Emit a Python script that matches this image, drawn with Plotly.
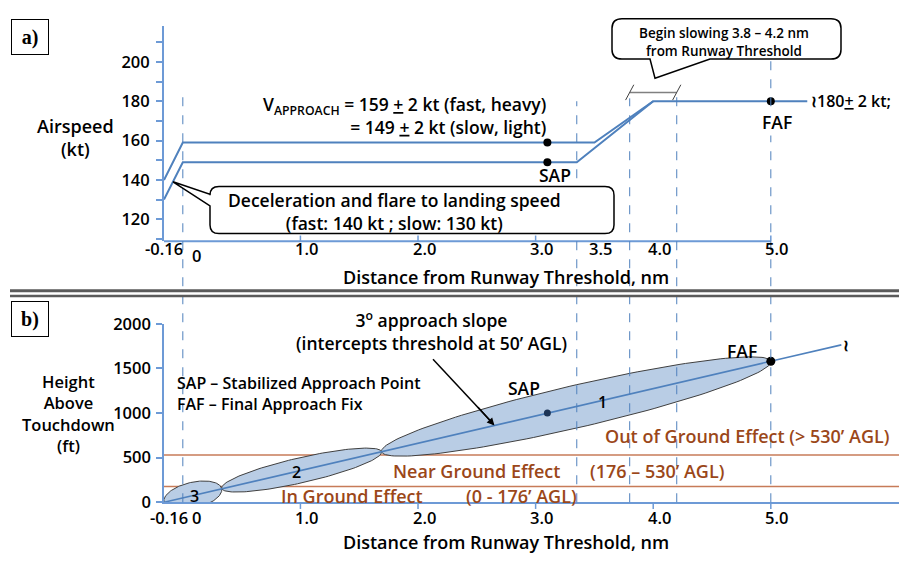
import numpy as np
import plotly.graph_objects as go

W, H = 899, 566
FONT = "Open Sans"
BLUE = "#4f81bd"
AXIS_BLUE = "#6d9ad6"
BROWN_TXT = "#9b4719"
BROWN_LINE = "#c77b58"
ELL_FILL = "#b9cde5"

# ---- panel a: airspeed schedule ----
fast_nm = [-0.16, 0.0, 3.5, 4.0, 5.31]
fast_kt = [140, 159, 159, 180, 180]
slow_nm = [-0.16, 0.0, 3.35, 4.0]
slow_kt = [130, 149, 149, 180]
sap_nm = 3.1
sap_kt = [159, 149]
faf_nm = 5.0
faf_kt = 180
speed_ticks = [-0.16, 0, 1.0, 2.0, 3.0, 3.5, 4.0, 5.0]
speed_tick_text = ["-0.16", "0", "1.0", "2.0", "3.0", "3.5", "4.0", "5.0"]
speed_tick_marks = [1.0, 2.0, 3.0, 5.0]
slow_window_nm = [3.8, 4.2]
guide_nm = [0.0, 3.35, 3.8, 4.2, 5.0]

# ---- panel b: glide path ----
glide_nm = [-0.16, 5.0, 5.6]
glide_ft = [0, 1580, 1764]
sap_ft = 1000
faf_ft = 1580
phase_nm = [-0.16, 0.33, 1.69, 5.0]      # boundaries of phases 3, 2, 1
phase_ft = [0, 155, 566, 1580]
phase_names = ["3", "2", "1"]
phase_label_nm = [0.10, 0.97, 3.57]
phase_label_ft = [70, 335, 1120]
ground_effect_ft = [176, 530]
height_ticks = [0, 500, 1000, 1500, 2000]
dist_ticks = [-0.16, 0, 1.0, 2.0, 3.0, 4.0, 5.0]
dist_tick_text = ["-0.16", "0", "1.0", "2.0", "3.0", "4.0", "5.0"]
dist_tick_marks = [1.0, 2.0, 3.0, 4.0, 5.0]

# ---- frame geometry (pixels) ----
PLOT_LEFT = 164
PX_PER_NM = 117.6
X_MIN = -0.16
X_MAX = X_MIN + (W - PLOT_LEFT) / PX_PER_NM
A_TOP, A_BOT = 15, 239
A_RANGE = [108.8, 108.8 + (A_BOT - A_TOP) / 2.05]
B_TOP, B_BOT = 325, 511
B_RANGE = [0, 2000]


def px(x):
    return x / W


def py(y):
    return 1 - y / H


def ellipse(x0, y0, x1, y1, half_px, n=160):
    sx = PX_PER_NM
    sy = (B_BOT - B_TOP) / (B_RANGE[1] - B_RANGE[0])
    p0 = np.array([x0 * sx, y0 * sy])
    p1 = np.array([x1 * sx, y1 * sy])
    c = (p0 + p1) / 2
    d = p1 - p0
    a = np.linalg.norm(d) / 2
    u = d / np.linalg.norm(d)
    nv = np.array([-u[1], u[0]])
    t = np.linspace(0, 2 * np.pi, n)
    pts = c + (a * np.cos(t))[:, None] * u + (half_px * np.sin(t))[:, None] * nv
    return pts[:, 0] / sx, pts[:, 1] / sy


def pt(x, y):
    return f"{px(x):.5f},{py(y):.5f}"


def callout(x0, y0, x1, y1, r, left_wedge=None, bottom_wedge=None):
    p = [f"M{pt(x0 + r, y0)}", f"L{pt(x1 - r, y0)}",
         f"Q{pt(x1, y0)} {pt(x1, y0 + r)}", f"L{pt(x1, y1 - r)}",
         f"Q{pt(x1, y1)} {pt(x1 - r, y1)}"]
    if bottom_wedge:
        xa, (tx, ty), xb = bottom_wedge
        p += [f"L{pt(xa, y1)}", f"L{pt(tx, ty)}", f"L{pt(xb, y1)}"]
    p += [f"L{pt(x0 + r, y1)}", f"Q{pt(x0, y1)} {pt(x0, y1 - r)}"]
    if left_wedge:
        ya, (tx, ty), yb = left_wedge
        p += [f"L{pt(x0, ya)}", f"L{pt(tx, ty)}", f"L{pt(x0, yb)}"]
    p += [f"L{pt(x0, y0 + r)}", f"Q{pt(x0, y0)} {pt(x0 + r, y0)}", "Z"]
    return " ".join(p)


fig = go.Figure()

# panel a traces
fig.add_trace(go.Scatter(x=fast_nm, y=fast_kt, mode="lines",
                         line=dict(color=BLUE, width=2), xaxis="x", yaxis="y"))
fig.add_trace(go.Scatter(x=slow_nm, y=slow_kt, mode="lines",
                         line=dict(color=BLUE, width=2), xaxis="x", yaxis="y"))
fig.add_trace(go.Scatter(x=[sap_nm, sap_nm, faf_nm], y=sap_kt + [faf_kt], mode="markers",
                         marker=dict(color="black", size=8), xaxis="x", yaxis="y"))

# panel b: phase ellipses, glide path, fixes
for i in range(3):
    ex, ey = ellipse(phase_nm[i], phase_ft[i], phase_nm[i + 1], phase_ft[i + 1],
                     [13.5, 13, 22][i])
    fig.add_trace(go.Scatter(x=ex, y=ey, mode="lines", fill="toself",
                             fillcolor=ELL_FILL, line=dict(color="#3f3f3f", width=1),
                             xaxis="x2", yaxis="y2"))
fig.add_trace(go.Scatter(x=glide_nm, y=glide_ft, mode="lines",
                         line=dict(color=BLUE, width=1.6), xaxis="x2", yaxis="y2"))
fig.add_trace(go.Scatter(x=[sap_nm], y=[sap_ft], mode="markers",
                         marker=dict(color="#1d3557", size=7), xaxis="x2", yaxis="y2"))
fig.add_trace(go.Scatter(x=[faf_nm], y=[faf_ft], mode="markers",
                         marker=dict(color="black", size=9), xaxis="x2", yaxis="y2"))

tick_font = dict(family=FONT, size=16.5, color="black", weight=600)
axis_common = dict(showgrid=False, zeroline=False, fixedrange=True)

fig.update_layout(
    width=W, height=H, margin=dict(l=0, r=0, t=0, b=0),
    paper_bgcolor="white", plot_bgcolor="rgba(0,0,0,0)", showlegend=False,
    font=dict(family=FONT, size=17, color="black"),
    xaxis=dict(domain=[px(PLOT_LEFT), 1], range=[X_MIN, X_MAX], anchor="y",
               showticklabels=False, ticks="", showline=False, **axis_common),
    yaxis=dict(domain=[py(A_BOT), py(A_TOP)], range=A_RANGE, anchor="x",
               tick0=120, dtick=20, ticks="outside", ticklen=6, tickwidth=1.5,
               tickcolor=AXIS_BLUE, showline=True, linecolor=AXIS_BLUE, linewidth=2,
               minor=dict(dtick=10, tick0=110, ticks="outside", ticklen=6,
                          tickwidth=1.5, tickcolor=AXIS_BLUE),
               ticklabelstandoff=3, tickfont=tick_font, **axis_common),
    xaxis2=dict(domain=[px(PLOT_LEFT), 1], range=[X_MIN, X_MAX], anchor="y2",
                showticklabels=False, ticks="",
                showline=True, linecolor=AXIS_BLUE, linewidth=1.5, **axis_common),
    yaxis2=dict(domain=[py(B_BOT), py(B_TOP)], range=B_RANGE, anchor="x2",
                tickvals=height_ticks, ticks="outside", ticklen=6, tickwidth=1.5,
                tickcolor=AXIS_BLUE, showline=True, linecolor=AXIS_BLUE, linewidth=1.5,
                ticklabelstandoff=2, tickfont=tick_font, **axis_common),
)

shapes = []
# panel a x-axis, drawn only up to the FAF
shapes.append(dict(type="line", xref="x", yref="y domain", x0=X_MIN, x1=faf_nm, y0=0, y1=0,
                   line=dict(color=AXIS_BLUE, width=2)))
for v in speed_tick_marks:
    shapes.append(dict(type="line", xref="x", yref="y domain", x0=v, x1=v, y0=0,
                       y1=6 / (A_BOT - A_TOP), line=dict(color=AXIS_BLUE, width=1.5)))
for v in dist_tick_marks:
    shapes.append(dict(type="line", xref="x2", yref="y2 domain", x0=v, x1=v, y0=0,
                       y1=-7 / (B_BOT - B_TOP), line=dict(color=AXIS_BLUE, width=1.5)))
# ground effect boundaries
for v in ground_effect_ft:
    shapes.append(dict(type="line", xref="x2 domain", yref="y2", x0=0, x1=1, y0=v, y1=v,
                       line=dict(color=BROWN_LINE, width=1.5), layer="below"))
# vertical guides through both panels
for v, top in zip(guide_nm, [87, 93, 90, 83, 43]):
    shapes.append(dict(type="line", xref="x", yref="paper", x0=v, x1=v,
                       y0=py(B_BOT), y1=py(top),
                       line=dict(color=BLUE, width=1, dash="dash"), layer="above"))
# panel separator
for yy, w in [(290.5, 3), (296, 2.5)]:
    shapes.append(dict(type="line", xref="paper", yref="paper", x0=px(10), x1=1,
                       y0=py(yy), y1=py(yy), line=dict(color="#5a5a5a", width=w)))
# slow-down window bracket
br_kt = 184.5
shapes.append(dict(type="line", xref="x", yref="y", x0=slow_window_nm[0], x1=slow_window_nm[1],
                   y0=br_kt, y1=br_kt, line=dict(color="#808080", width=1.5)))
for v in slow_window_nm:
    shapes.append(dict(type="line", xref="x", yref="y", x0=v - 0.035, x1=v + 0.035,
                       y0=br_kt - 3.9, y1=br_kt + 3.9, line=dict(color="#404040", width=1)))
# callout boxes
shapes.append(dict(type="path", xref="paper", yref="paper",
                   path=callout(210, 182, 614, 231, 9, left_wedge=(202, (173, 177), 190)),
                   line=dict(color="black", width=1.5), fillcolor="white"))
shapes.append(dict(type="path", xref="paper", yref="paper",
                   path=callout(612, 7, 841, 49, 10, bottom_wedge=(710, (655, 69), 650)),
                   line=dict(color="black", width=1.5), fillcolor="rgba(255,255,255,0)"))
# arrow from the slope note to the glide path
shapes.append(dict(type="line", xref="paper", yref="paper", x0=px(433), y0=py(362),
                   x1=px(492), y1=py(428), line=dict(color="black", width=1.5)))
fig.update_layout(shapes=shapes)

ann = []


def text(x, y, s, size=17.5, color="black", xanchor="center", align="center", weight=600, **kw):
    ann.append(dict(x=px(x), y=py(y), xref="paper", yref="paper", text=s, showarrow=False,
                    xanchor=xanchor, yanchor="middle", align=align,
                    font=dict(family=FONT, size=size, color=color, weight=weight), **kw))


# x tick labels for both panels (small offsets keep -0.16 and 0 apart)
def xtick_labels(xref, vals, labels, y_px, zero_drop, first_shift):
    for v, s in zip(vals, labels):
        shift = {"-0.16": first_shift, "0": 14}.get(s, 6)
        dy = zero_drop if s == "0" else 0
        ann.append(dict(x=v, y=py(y_px + dy), xref=xref, yref="paper", text=s,
                        showarrow=False, xanchor="center", yanchor="middle", xshift=shift,
                        font=tick_font))


xtick_labels("x", speed_ticks, speed_tick_text, 247, 7, 0)
xtick_labels("x2", dist_ticks, dist_tick_text, 527, 0, 5)

# panel labels
for lbl, cy in [("a)", 26), ("b)", 320)]:
    ann.append(dict(x=px(30), y=py(cy), xref="paper", yref="paper", text=f"<b>{lbl}</b>",
                    showarrow=False, xanchor="center", yanchor="middle",
                    font=dict(family="Liberation Serif", size=20, color="black"),
                    bordercolor="black", borderwidth=1, width=34, height=32, bgcolor="white"))

# panel a texts
text(75, 131, "Airspeed<br>(kt)", size=18)
text(548, 108, "V<sub>APPROACH</sub> = 159 <u>+</u> 2 kt (fast, heavy)<br>"
               "= 149 <u>+</u> 2 kt (slow, light)", xanchor="right", align="right")
text(555, 170, "SAP")
text(777, 115, "FAF", bgcolor="white")
text(809, 93, "≀180<u>+</u> 2 kt;", size=16, xanchor="left")
text(394, 208, "Deceleration and flare to landing speed<br>(fast: 140 kt ; slow: 130 kt)")
text(724, 31, "Begin slowing 3.8 – 4.2 nm<br>from Runway Threshold", size=13.5)
text(506, 276, "Distance from Runway Threshold, nm", size=18)

# panel b texts
text(68, 419, "Height<br>Above<br>Touchdown<br>(ft)", size=16.5)
text(431, 333, "3<sup>o</sup> approach slope<br>(intercepts threshold at 50’ AGL)")
text(175, 398, "SAP – Stabilized Approach Point<br>FAF – Final Approach Fix",
     size=16, xanchor="left", align="left")
text(524, 392, "SAP")
text(742, 353, "FAF")
text(846, 347, "≀", size=16)
text(747, 442, "Out of Ground Effect (> 530’ AGL)", size=18, color=BROWN_TXT)
text(477, 478, "Near Ground Effect", size=18, color=BROWN_TXT)
text(657, 478, "(176 – 530’ AGL)", size=18, color=BROWN_TXT)
text(352, 505, "In Ground Effect", size=18, color=BROWN_TXT)
text(521, 505, "(0 - 176’ AGL)", size=18, color=BROWN_TXT)
text(506, 552, "Distance from Runway Threshold, nm", size=18)

for name, xv, yv in zip(phase_names, phase_label_nm, phase_label_ft):
    ann.append(dict(x=xv, y=yv, xref="x2", yref="y2", text=name, showarrow=False,
                    font=dict(family=FONT, size=16, color="black", weight=600)))

# arrowhead on the glide path
ann.append(dict(x=2.65, y=860, xref="x2", yref="y2", text=" ", showarrow=True,
                ax=-20, ay=-22, arrowhead=2, arrowsize=1, arrowwidth=1.5, arrowcolor="black",
                standoff=0))

fig.update_layout(annotations=ann)
fig.write_html("out.html")
